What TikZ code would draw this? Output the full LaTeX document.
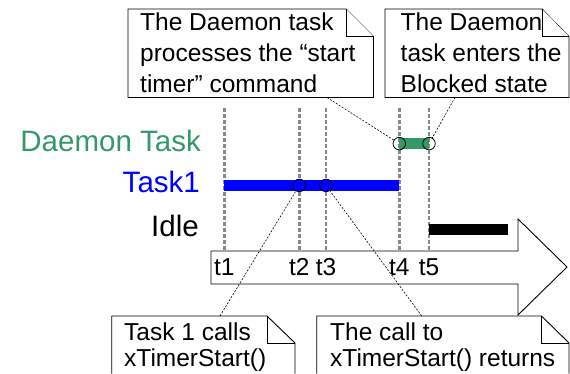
\documentclass[tikz,border=0pt]{standalone}
\usepackage{fontspec}
\setmainfont{Liberation Sans}
\definecolor{dgreen}{RGB}{51,153,102}
\definecolor{tgray}{RGB}{136,136,136}
\begin{document}
\begin{tikzpicture}[x=1pt,y=-1pt,
  notebox/.style={draw=black, line width=0.9pt, fill=white},
  notetext/.style={font=\fontsize{24.5}{31}\selectfont, align=left, inner sep=0pt, anchor=north west},
  notetextb/.style={font=\fontsize{24.5}{26}\selectfont, align=left, inner sep=0pt, anchor=north west},
  lanelbl/.style={font=\fontsize{29.5}{34}\selectfont, inner sep=0pt, anchor=base east},
  ticklbl/.style={font=\fontsize{24.5}{29.5}\selectfont, inner sep=0pt, anchor=base},
  tickline/.style={draw=tgray, line width=2.4pt, dash pattern=on 3.5pt off 2.5pt},
  conn/.style={draw=black, line width=0.6pt, dash pattern=on 2pt off 1.5pt},
  evt/.style={circle, draw=black, line width=0.8pt, minimum size=12.5pt, inner sep=0pt}
]
\useasboundingbox (0,0) rectangle (570,373);
\fill[white] (0,0) rectangle (570,373);

% vertical time lines
\foreach \x in {224.3,299.3,326,399.3,429}
  \draw[tickline] (\x,108) -- (\x,251);

% time arrow
\draw[line width=0.9pt, fill=white] (211,251) -- (518,251) -- (518,219) -- (567,267)
  -- (518,315) -- (518,284) -- (211,284) -- cycle;

\node[ticklbl] (t1) at (224.3,275.5) {t1};
\node[ticklbl] (t2) at (299.3,275.5) {t2};
\node[ticklbl] (t3) at (326,275.5) {t3};
\node[ticklbl] (t4) at (399.3,275.5) {t4};
\node[ticklbl] (t5) at (429,275.5) {t5};

% lane labels
\node[lanelbl, text=dgreen] (ldaemon) at (201,151.5) {Daemon Task};
\node[lanelbl, text=blue] (ltask1) at (200,192.7) {Task1};
\node[lanelbl, text=black] (lidle) at (199,236) {Idle};

% bars
\fill[dgreen] (399.3,138.3) rectangle (429,149);
\fill[blue] (224.3,180) rectangle (399.3,191);
\fill[black] (429,224.3) rectangle (507.7,235);

% event circles
\node[evt] (c4) at (399.3,143.6) {};
\node[evt] (c5) at (429,143.6) {};
\node[evt, fill=blue] (c2) at (299.3,185.4) {};
\node[evt, fill=blue] (c3) at (326,185.4) {};

% note boxes
\draw[notebox] (128,97.5) -- (128,9) -- (346,9) -- (373.5,36.5) -- (373.5,97.5) -- cycle;
\draw[notebox] (346,9) -- (346,36.5) -- (373.5,36.5);
\node[notetext] (n1) at (140,12.5) {The Daemon task\\processes the “start\\timer” command};

\draw[notebox] (385,97.5) -- (385,9) -- (542,9) -- (569,36.5) -- (569,97.5) -- cycle;
\draw[notebox] (542,9) -- (542,36.5) -- (569,36.5);
\node[notetext] (n2) at (400.5,12.5) {The Daemon\\task enters the\\Blocked state};

\fill[white] (111.7,316) -- (267,316) -- (295,343) -- (295,373) -- (111.7,373) -- cycle;
\draw[notebox, fill=none] (111.7,373.5) -- (111.7,316) -- (267,316) -- (295,343) -- (295,373.5);
\draw[notebox, fill=none] (267,316) -- (267,343) -- (295,343);
\node[notetextb] (n3) at (124,322.5) {Task 1 calls\\xTimerStart()};

\fill[white] (316.7,316) -- (541.5,316) -- (569,343) -- (569,373) -- (316.7,373) -- cycle;
\draw[notebox, fill=none] (316.7,373.5) -- (316.7,316) -- (541.5,316) -- (569,343) -- (569,373.5);
\draw[notebox, fill=none] (541.5,316) -- (541.5,343) -- (569,343);
\node[notetextb] (n4) at (330,322.5) {The call to\\xTimerStart() returns};

% connector anchors on the notes
\coordinate (a1) at (327,97.5);
\coordinate (a2) at (455,97.5);
\coordinate (a3) at (220,316);
\coordinate (a4) at (421.7,316);

\draw[conn] (a1) -- (c4);
\draw[conn] (a2) -- (c5);
\draw[conn] (a3) -- (c2);
\draw[conn] (a4) -- (c3);
\end{tikzpicture}
\end{document}
